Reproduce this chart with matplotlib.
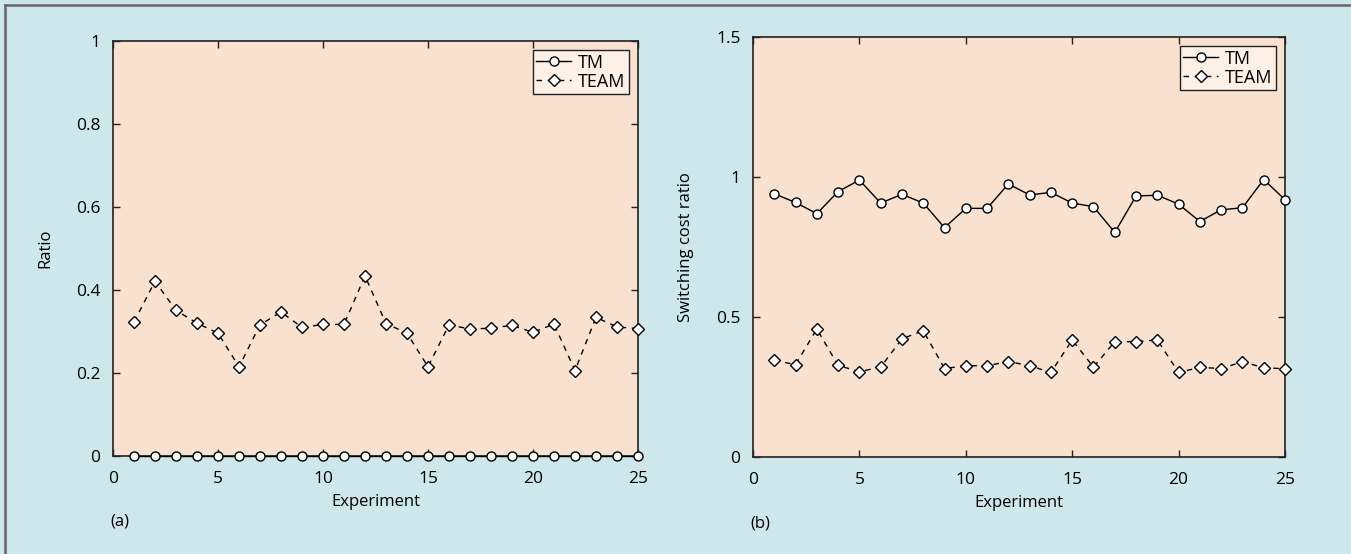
import matplotlib
matplotlib.use('Agg')
import matplotlib.pyplot as plt
from matplotlib.lines import Line2D

plt.rcParams['font.family'] = ['Open Sans', 'DejaVu Sans']

experiments = list(range(1, 26))

# panel (a): ratio
ratio_tm = [0.0] * 25
ratio_team = [0.323, 0.421, 0.351, 0.320, 0.296, 0.215, 0.316, 0.347, 0.310, 0.317,
              0.317, 0.434, 0.319, 0.296, 0.215, 0.316, 0.306, 0.308, 0.315, 0.298,
              0.318, 0.206, 0.334, 0.311, 0.307]

# panel (b): switching cost ratio
cost_tm = [0.940, 0.909, 0.869, 0.948, 0.989, 0.907, 0.938, 0.907, 0.819, 0.888,
           0.888, 0.975, 0.936, 0.945, 0.907, 0.894, 0.802, 0.932, 0.935, 0.903,
           0.841, 0.883, 0.890, 0.991, 0.919]
cost_team = [0.345, 0.330, 0.457, 0.327, 0.305, 0.321, 0.422, 0.451, 0.316, 0.326,
             0.326, 0.341, 0.326, 0.302, 0.418, 0.321, 0.412, 0.412, 0.418, 0.302,
             0.320, 0.316, 0.340, 0.319, 0.315]

x_ticks = [0, 5, 10, 15, 20, 25]
y_ticks_a = [0, 0.2, 0.4, 0.6, 0.8, 1]
y_ticks_b = [0, 0.5, 1, 1.5]

FIG_BG = '#cee7eb'
AX_BG = '#f9e1cf'
LEG_BG = '#fdf0e7'

fig = plt.figure(figsize=(13.51, 5.54), dpi=100, facecolor=FIG_BG)

# outer frame (top and left edges visible)
fig.add_artist(Line2D([5 / 1351, 1], [1 - 5 / 554, 1 - 5 / 554], transform=fig.transFigure,
                      color='#666666', lw=1.8))
fig.add_artist(Line2D([5 / 1351, 5 / 1351], [0, 1 - 5 / 554], transform=fig.transFigure,
                      color='#666666', lw=1.8))

ax_a = fig.add_axes([113 / 1351, 98 / 554, 525 / 1351, 415 / 554])
ax_b = fig.add_axes([753 / 1351, 97 / 554, 532 / 1351, 420 / 554])


def style(ax, yticks, ylabel, tag):
    ax.set_facecolor(AX_BG)
    ax.set_xlim(0, 25)
    ax.set_ylim(yticks[0], yticks[-1])
    ax.set_xticks(x_ticks)
    ax.set_yticks(yticks)
    ax.set_xticklabels([f'{v:g}' for v in x_ticks])
    ax.set_yticklabels([f'{v:g}' for v in yticks])
    ax.tick_params(direction='in', top=True, right=True, length=5, width=1,
                   labelsize=12.5, color='#222222')
    ax.tick_params(axis='x', pad=11)
    ax.tick_params(axis='y', pad=9)
    for s in ax.spines.values():
        s.set_linewidth(1.2)
        s.set_color('#222222')
    ax.set_xlabel('Experiment', fontsize=12, labelpad=5)
    ax.set_ylabel(ylabel, fontsize=12, labelpad=16)
    ax.text(-0.005, -0.158, tag, transform=ax.transAxes, fontsize=12,
            ha='left', va='center')
    leg = ax.legend(loc='upper right', fontsize=13, frameon=True, fancybox=False,
                    facecolor=LEG_BG, edgecolor='#222222', framealpha=1,
                    handlelength=1.9, handletextpad=0.4, borderpad=0.2,
                    labelspacing=0.05, borderaxespad=0.5)
    leg.get_frame().set_linewidth(1.0)


def draw(ax, tm, team):
    ax.plot(experiments, tm, '-', color='black', lw=1, marker='o', ms=6.5,
            mfc='white', mec='black', mew=1, label='TM', clip_on=False, zorder=3)
    ax.plot(experiments, team, '--', color='black', lw=1, dashes=(4, 4), marker='D',
            ms=6.5, mfc='white', mec='black', mew=1, label='TEAM', clip_on=False,
            zorder=3)


draw(ax_a, ratio_tm, ratio_team)
style(ax_a, y_ticks_a, 'Ratio', '(a)')

draw(ax_b, cost_tm, cost_team)
style(ax_b, y_ticks_b, 'Switching cost ratio', '(b)')

fig.savefig('out.png', dpi=100, facecolor=FIG_BG)
